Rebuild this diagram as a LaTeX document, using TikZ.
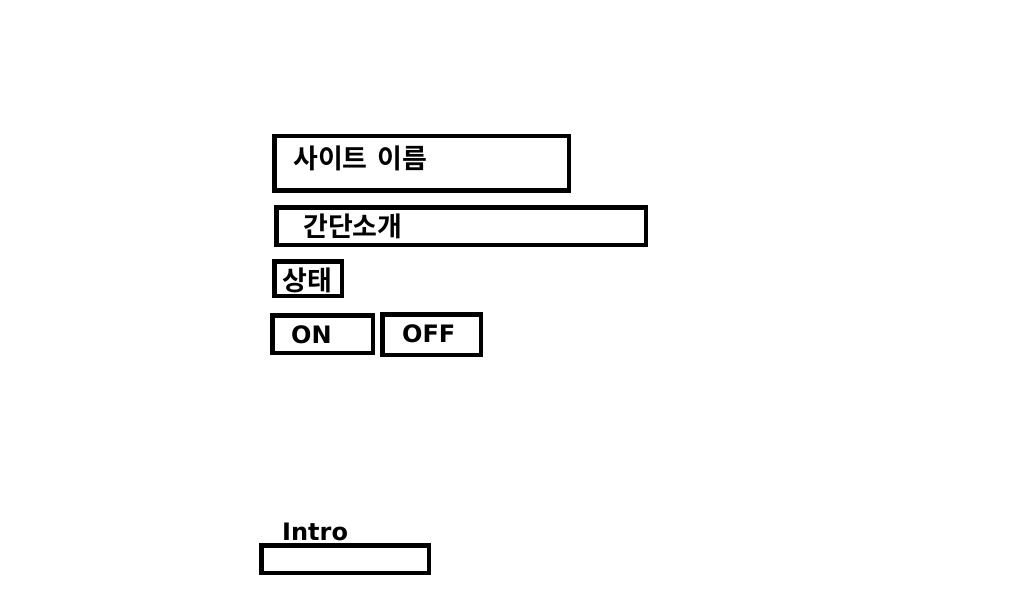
\documentclass[tikz,border=0pt]{standalone}
\usepackage{fontspec}
\setmainfont{DejaVu Sans}
\newfontfamily\krfont{Noto Sans CJK KR}[UprightFont=* Bold, BoldFont=* Black]
\begin{document}
\begin{tikzpicture}[x=1pt, y=-1pt,
    box/.style={draw, line width=4.5pt, inner sep=0pt},
    krtext/.style={anchor=base west, inner sep=0pt, font=\krfont\fontsize{27}{27}\selectfont},
    entext/.style={anchor=base west, inner sep=0pt, font=\bfseries\fontsize{24}{24}\selectfont}]
            \useasboundingbox (0,0) rectangle (1010,591);

            % Boxes
            \node[box, minimum width=294.5pt, minimum height=54.5pt] (site) at (421.5,163.5) {};
            \node[box, minimum width=369.5pt, minimum height=37.5pt] (desc) at (461,226) {};
            \node[box, minimum width=67.5pt, minimum height=34.5pt] (status) at (308,278.5) {};
            \node[box, minimum width=100.5pt, minimum height=37.5pt] (on) at (322.5,334) {};
            \node[box, minimum width=98.5pt, minimum height=40.5pt] (off) at (431.5,334.5) {};
            \node[box, minimum width=167.5pt, minimum height=27.5pt] (intro) at (345,559) {};

            % Labels
            \node[krtext] (sitelabel) at (293,168.5) {사이트\hspace{4pt} 이름};
            \node[krtext] (desclabel) at (303,236.5) {간단소개};
            \node[krtext] (statuslabel) at (282.5,290.5) {상태};
            \node[entext] (onlabel) at (291,343) {ON};
            \node[entext] (offlabel) at (402,342) {OFF};
            \node[entext] (introlabel) at (282,540) {Intro};
        \end{tikzpicture}
\end{document}
